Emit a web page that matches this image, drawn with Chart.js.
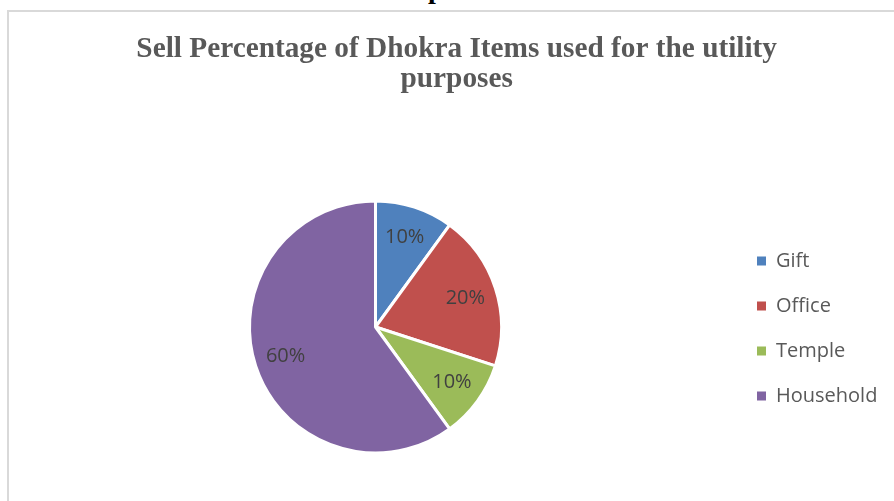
<!DOCTYPE html>
<html>
<head>
<meta charset="utf-8">
<script src="https://cdn.jsdelivr.net/npm/chart.js@4.4.1/dist/chart.umd.min.js"></script>
<style>
  html, body { margin: 0; padding: 0; background: #fff; overflow: hidden; }
  body { width: 894px; height: 501px; position: relative; }
  #frame {
    position: absolute; left: 7px; top: 10px; width: 920px; height: 520px;
    border: 2px solid #d9d9d9; box-sizing: border-box;
  }
  #cut {
    position: absolute; left: 428px; top: -25px;
    font: bold 28px "Liberation Serif", serif; line-height: 28px; color: #000;
  }
  #wrap { position: absolute; left: 0; top: 0; width: 916px; height: 501px; }
</style>
</head>
<body>
<div id="cut">p</div>
<div id="frame"></div>
<div id="wrap"><canvas id="pie" width="916" height="501"></canvas></div>
<script>
(function() {
  "use strict";

  // ── Data ──
  const categories = ['Gift', 'Office', 'Temple', 'Household'];
  const shares = [10, 20, 10, 60];
  const sliceColors = ['#4f81bd', '#c0504d', '#9bbb59', '#8064a2'];
  const titleLines = ['Sell Percentage of Dhokra Items used for the utility', 'purposes'];

  const labelFont = { family: '"Open Sans", sans-serif', size: 20 };

  // measure the widest legend text so the legend lands where we want it
  const mctx = document.createElement('canvas').getContext('2d');
  mctx.font = `${labelFont.size}px ${labelFont.family}`;
  const maxText = Math.max(...categories.map(c => mctx.measureText(c).width));
  const legendPad = 25, boxSize = 9;
  const legendW = legendPad + boxSize + labelFont.size / 2 + maxText + 10;
  const legendLeft = 732;
  const padRight = 916 - legendLeft - legendW;

  // percentage labels inside the slices
  const sliceLabels = {
    id: 'sliceLabels',
    afterDatasetsDraw(chart) {
      const ctx = chart.ctx;
      const meta = chart.getDatasetMeta(0);
      ctx.save();
      ctx.font = `${labelFont.size}px ${labelFont.family}`;
      ctx.fillStyle = '#404040';
      ctx.textAlign = 'center';
      ctx.textBaseline = 'middle';
      meta.data.forEach((arc, i) => {
        const p = arc.getProps(['x', 'y', 'startAngle', 'endAngle', 'outerRadius'], true);
        const mid = (p.startAngle + p.endAngle) / 2;
        const r = p.outerRadius * 0.75;
        ctx.fillText(shares[i] + '%', p.x + Math.cos(mid) * r, p.y + Math.sin(mid) * r);
      });
      ctx.restore();
    }
  };

  // nudge the chart title a little to the right (it sits off-centre in the original)
  const titleNudge = {
    id: 'titleNudge',
    afterLayout(chart) {
      if (chart.titleBlock) chart.titleBlock.left += 7;
    }
  };

  new Chart(document.getElementById('pie'), {
    type: 'pie',
    data: {
      labels: categories,
      datasets: [{
        data: shares,
        backgroundColor: sliceColors,
        borderColor: '#ffffff',
        borderWidth: 3,
        radius: 126,
      }]
    },
    options: {
      responsive: false,
      animation: false,
      layout: { padding: { left: 19, right: padRight, top: 0, bottom: 0 } },
      plugins: {
        title: {
          display: true,
          text: titleLines,
          color: '#595959',
          font: { family: '"Liberation Serif", "Times New Roman", serif', size: 29.3, weight: 'bold', lineHeight: 30 / 29.3 },
          padding: { top: 34, bottom: 59 },
        },
        legend: {
          position: 'right',
          // empty legend title only used as a spacer to drop the items down
          title: { display: true, text: ' ', font: { size: 10, lineHeight: 1 }, padding: { top: 146, bottom: 0 } },
          labels: {
            color: '#595959',
            font: labelFont,
            boxWidth: boxSize,
            boxHeight: boxSize,
            padding: legendPad,
            generateLabels(chart) {
              const items = Chart.controllers.pie.overrides.plugins.legend.labels.generateLabels(chart);
              items.forEach(it => { it.lineWidth = 0; it.strokeStyle = 'rgba(0,0,0,0)'; });
              return items;
            }
          }
        },
        tooltip: { enabled: false },
      },
    },
    plugins: [sliceLabels, titleNudge],
  });
})();
</script>
</body>
</html>
